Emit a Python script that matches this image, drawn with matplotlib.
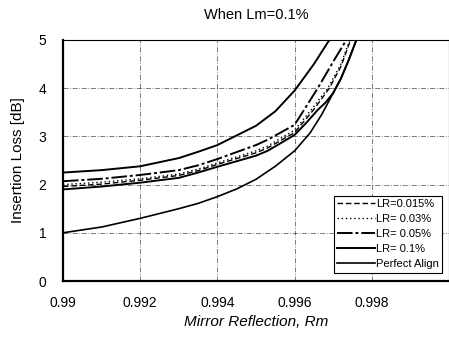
import numpy as np
import matplotlib.pyplot as plt

plt.rcParams['font.family'] = ['Liberation Sans', 'DejaVu Sans']

# Mirror reflection values (x) and insertion loss curves (y, dB)
r_010 = [0.99, 0.991, 0.992, 0.993, 0.9935, 0.994, 0.995, 0.9955, 0.996, 0.9965, 0.9969]
lr_010 = [2.25, 2.30, 2.38, 2.55, 2.68, 2.82, 3.22, 3.52, 3.95, 4.50, 5.00]

r_005 = [0.99, 0.991, 0.992, 0.993, 0.9935, 0.994, 0.995, 0.9953, 0.996, 0.9966, 0.997, 0.99734]
lr_005 = [2.07, 2.12, 2.20, 2.30, 2.40, 2.53, 2.82, 2.93, 3.24, 4.00, 4.55, 5.00]

r_003 = [0.99, 0.991, 0.992, 0.993, 0.9935, 0.994, 0.995, 0.9953, 0.996, 0.9965, 0.99686, 0.9972, 0.99743]
lr_003 = [2.00, 2.05, 2.12, 2.22, 2.32, 2.45, 2.70, 2.80, 3.13, 3.62, 4.00, 4.50, 5.00]

r_0015 = [0.99, 0.991, 0.992, 0.993, 0.9935, 0.994, 0.995, 0.9953, 0.996, 0.9965, 0.9969, 0.9972, 0.99745]
lr_0015 = [1.96, 2.01, 2.09, 2.19, 2.29, 2.42, 2.66, 2.76, 3.08, 3.56, 4.00, 4.45, 5.00]

r_low = [0.99, 0.991, 0.992, 0.993, 0.9935, 0.994, 0.995, 0.9953, 0.996, 0.9963, 0.9966, 0.9968, 0.997, 0.9972, 0.9974, 0.9976]
lower = [1.90, 1.96, 2.04, 2.14, 2.25, 2.37, 2.60, 2.70, 3.03, 3.28, 3.55, 3.70, 3.90, 4.20, 4.58, 5.00]

r_pa = [0.99, 0.991, 0.992, 0.993, 0.9935, 0.994, 0.9945, 0.995, 0.9955, 0.996, 0.9964, 0.9967, 0.997, 0.9972, 0.9974, 0.9976]
perfect = [1.00, 1.12, 1.30, 1.50, 1.61, 1.75, 1.91, 2.11, 2.38, 2.70, 3.07, 3.45, 3.90, 4.20, 4.58, 5.00]

x_ticks = [0.99, 0.992, 0.994, 0.996, 0.998]
x_ticklabels = ['0.99', '0.992', '0.994', '0.996', '0.998']

fig = plt.figure(figsize=(4.49, 3.45), dpi=100)
ax = fig.add_axes([0.1403, 0.1855, 0.8597, 0.6986])

ax.plot(r_0015, lr_0015, color='black', lw=1.0, ls=(0, (4, 2)), label='LR=0.015%')
ax.plot(r_003, lr_003, color='black', lw=1.0, ls=(0, (1, 2)), label='LR= 0.03%')
ax.plot(r_005, lr_005, color='black', lw=1.4, ls=(0, (8, 1.5, 1.5, 1.5)), label='LR= 0.05%')
ax.plot(r_010, lr_010, color='black', lw=1.4, label='LR= 0.1%')
ax.plot(r_low, lower, color='black', lw=1.4)
ax.plot(r_pa, perfect, color='black', lw=1.2, label='Perfect Align')

ax.set_xlim(0.99, 1.0)
ax.set_ylim(0, 5)
ax.set_xticks(x_ticks)
ax.set_xticklabels(x_ticklabels)
ax.set_yticks(range(6))
ax.tick_params(length=0, labelsize=10, pad=11)
ax.tick_params(axis='y', pad=12)
ax.grid(True, color='black', lw=0.6, ls=(0, (6, 2, 1, 2)), alpha=0.6)
ax.set_axisbelow(True)
for side in ['left', 'bottom']:
    ax.spines[side].set_linewidth(1.6)
for side in ['top', 'right']:
    ax.spines[side].set_linewidth(0.8)

ax.set_title('When Lm=0.1%', fontsize=10.5, pad=15)
ax.set_xlabel('Mirror Reflection, Rm', fontsize=11, style='italic')
ax.set_ylabel('Insertion Loss [dB]', fontsize=11)
ax.xaxis.set_label_coords(0.5, -0.14)
ax.yaxis.set_label_coords(-0.098, 0.5)

leg = ax.legend(loc='lower right', bbox_to_anchor=(0.997, 0.012), fontsize=8,
                handlelength=3.4, handletextpad=0.1, labelspacing=0.45,
                borderpad=0.3, fancybox=False, framealpha=1, edgecolor='black')
leg.get_frame().set_linewidth(0.8)

fig.savefig('out.png', dpi=100)
